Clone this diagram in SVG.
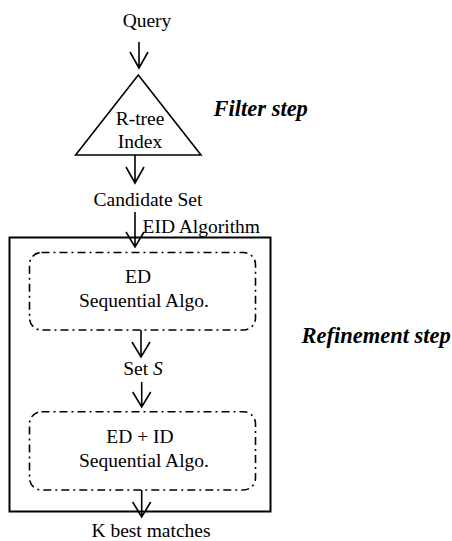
<svg xmlns="http://www.w3.org/2000/svg" width="452" height="541" viewBox="0 0 452 541">
<style>
text{font-family:"Liberation Serif","Times New Roman",serif;font-size:19.5px;fill:#000}
.c{text-anchor:middle}
.bi{font-weight:bold;font-style:italic;font-size:22.5px}
.ln{stroke:#000;stroke-width:1.6;fill:none}
.dd{stroke:#000;stroke-width:1.6;fill:none;stroke-dasharray:8 4 2 4}
</style>
<rect width="452" height="541" fill="#fff"/>
<g id="query"><text class="c" x="147" y="26.5">Query</text></g>
<g id="rtree">
<polygon class="ln" points="138.3,75 201,155 75.6,155"/>
<text class="c" x="140" y="125">R-tree</text>
<text class="c" x="140" y="147.5">Index</text>
</g>
<g id="filter"><text class="bi" x="213.5" y="116">Filter step</text></g>
<g id="candidate"><text class="c" x="148" y="206">Candidate Set</text></g>
<g id="eid">
<rect x="9.5" y="237.5" width="261" height="274" fill="none" stroke="#000" stroke-width="2"/>
<text x="142.5" y="233.3">EID Algorithm</text>
</g>
<g id="ed">
<rect class="dd" x="29.5" y="252.5" width="226" height="77.5" rx="12"/>
<text class="c" x="138" y="283.3">ED</text>
<text class="c" x="144" y="307.3">Sequential Algo.</text>
</g>
<g id="setS"><text class="c" x="143" y="375">Set <tspan font-style="italic">S</tspan></text></g>
<g id="edid">
<rect class="dd" x="29.5" y="411.7" width="226" height="78.3" rx="12"/>
<text class="c" x="140" y="442.7">ED + ID</text>
<text class="c" x="144" y="467.3">Sequential Algo.</text>
</g>
<g id="refine"><text class="bi" x="301.5" y="343.3">Refinement step</text></g>
<g id="kbest"><text class="c" x="151" y="536.7">K best matches</text></g>
<g id="connectors" class="ln">
<path class="ln" d="M139,42V68M130,52L139,68L148,52"/>
<path class="ln" d="M135,155V183M126,167L135,183L144,167"/>
<path class="ln" d="M135,212V247M126,232L135,247L144,232"/>
<path class="ln" d="M141,330V357M132,342L141,357L150,342"/>
<path class="ln" d="M141.7,382V407M132.7,392L141.7,407L150.7,392"/>
<path class="ln" d="M141.7,490V517M132.7,502L141.7,517L150.7,502"/>
</g>
</svg>
